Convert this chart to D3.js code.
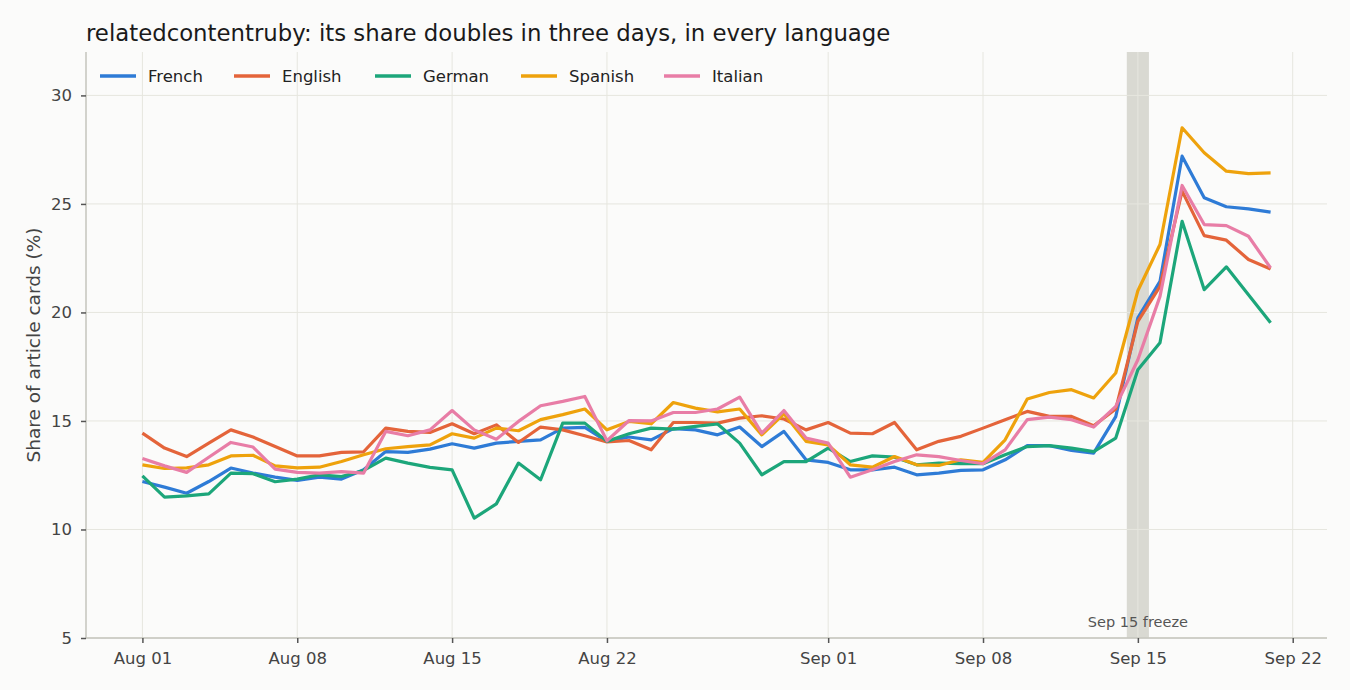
<!DOCTYPE html>
<html>
<head>
<meta charset="utf-8">
<script src="https://cdn.jsdelivr.net/npm/d3@7"></script>
<style>
  body { margin: 0; background: #fbfbfa; }
  text { font-family: "DejaVu Sans", sans-serif; }
</style>
</head>
<body>
<div id="chart"></div>
<script>
// languages and their colours
const languages = ["French", "English", "German", "Spanish", "Italian"];
const colors = ["#2e7bd6", "#e4643a", "#1ca67a", "#eea20c", "#e87da6"];

// share of article cards (%), one value per day from Aug 01 to Sep 21
const french = [12.21, 11.95, 11.67, 12.21, 12.83, 12.6, 12.41, 12.26, 12.41, 12.32, 12.75, 13.59, 13.55, 13.7, 13.95, 13.75, 13.98, 14.06, 14.13, 14.67, 14.7, 14.06, 14.26, 14.13, 14.65, 14.59, 14.36, 14.72, 13.82, 14.52, 13.21, 13.09, 12.75, 12.75, 12.87, 12.52, 12.6, 12.72, 12.75, 13.21, 13.86, 13.86, 13.64, 13.52, 15.2, 19.75, 21.43, 27.2, 25.28, 24.87, 24.77, 24.62];
const english = [14.44, 13.75, 13.36, 13.98, 14.59, 14.26, 13.82, 13.39, 13.39, 13.55, 13.58, 14.67, 14.52, 14.47, 14.87, 14.41, 14.82, 14.01, 14.72, 14.59, 14.32, 14.03, 14.1, 13.67, 14.93, 14.93, 14.9, 15.13, 15.24, 15.09, 14.59, 14.93, 14.44, 14.41, 14.93, 13.67, 14.06, 14.29, 14.67, 15.06, 15.44, 15.21, 15.21, 14.78, 15.55, 19.59, 21.2, 25.59, 23.54, 23.33, 22.44, 22.0];
const german = [12.47, 11.49, 11.55, 11.64, 12.6, 12.57, 12.2, 12.32, 12.52, 12.44, 12.72, 13.29, 13.06, 12.86, 12.75, 10.52, 11.18, 13.06, 12.29, 14.9, 14.9, 14.06, 14.41, 14.67, 14.62, 14.75, 14.86, 13.98, 12.52, 13.13, 13.13, 13.75, 13.13, 13.39, 13.33, 12.98, 13.06, 13.03, 13.03, 13.44, 13.82, 13.86, 13.75, 13.59, 14.21, 17.36, 18.6, 24.2, 21.05, 22.1, 20.82, 19.52];
const spanish = [12.98, 12.81, 12.84, 12.98, 13.39, 13.42, 12.93, 12.84, 12.87, 13.13, 13.44, 13.72, 13.82, 13.9, 14.41, 14.21, 14.67, 14.55, 15.06, 15.29, 15.55, 14.59, 14.98, 14.87, 15.85, 15.59, 15.42, 15.55, 14.36, 15.33, 14.06, 13.9, 12.98, 12.87, 13.36, 12.98, 12.95, 13.21, 13.09, 14.13, 16.01, 16.31, 16.44, 16.06, 17.21, 21.0, 23.13, 28.51, 27.36, 26.51, 26.4, 26.43];
const italian = [13.27, 12.93, 12.63, 13.33, 14.01, 13.8, 12.78, 12.63, 12.6, 12.67, 12.6, 14.52, 14.32, 14.59, 15.48, 14.59, 14.16, 14.98, 15.7, 15.9, 16.13, 14.09, 15.02, 15.0, 15.39, 15.39, 15.55, 16.1, 14.44, 15.48, 14.21, 13.98, 12.41, 12.75, 13.13, 13.44, 13.36, 13.18, 13.03, 13.67, 15.06, 15.18, 15.06, 14.72, 15.67, 17.82, 20.74, 25.85, 24.05, 24.0, 23.51, 22.05];
const seriesValues = [french, english, german, spanish, italian];

// x axis: days and tick labels
const days = d3.timeDay.range(new Date(2024, 7, 1), new Date(2024, 8, 22));
const xTicks = ["2024-08-01", "2024-08-08", "2024-08-15", "2024-08-22", "2024-09-01", "2024-09-08", "2024-09-15", "2024-09-22"];
const yTicks = [5, 10, 15, 20, 25, 30];
const freeze = { date: "2024-09-15", label: "Sep 15 freeze" };

const width = 1350, height = 690;
const margin = { top: 52, right: 23, bottom: 52, left: 86 };
const parse = d3.timeParse("%Y-%m-%d");
const pad = 2.55 * 864e5;

const x = d3.scaleTime()
  .domain([+days[0] - pad, +days[days.length - 1] + pad])
  .range([margin.left, width - margin.right]);
const y = d3.scaleLinear()
  .domain([5, 32])
  .range([height - margin.bottom, margin.top]);

const svg = d3.select("#chart").append("svg")
  .attr("width", width)
  .attr("height", height)
  .style("background", "#fbfbfa");

// freeze band, one day wide round Sep 15
const fz = parse(freeze.date);
svg.append("rect")
  .attr("x", x(+fz - 864e5 / 2))
  .attr("y", margin.top)
  .attr("width", x(+fz + 864e5 / 2) - x(+fz - 864e5 / 2))
  .attr("height", height - margin.bottom - margin.top)
  .attr("fill", "#d9d9d2");

// grid
svg.append("g").selectAll("line").data(xTicks.map(parse)).join("line")
  .attr("x1", d => x(d)).attr("x2", d => x(d))
  .attr("y1", margin.top).attr("y2", height - margin.bottom)
  .attr("stroke", "#e6e6df").attr("stroke-width", 1);
svg.append("g").selectAll("line").data(yTicks).join("line")
  .attr("x1", margin.left).attr("x2", width - margin.right)
  .attr("y1", d => y(d)).attr("y2", d => y(d))
  .attr("stroke", "#e6e6df").attr("stroke-width", 1);

// axes
const xAxis = svg.append("g")
  .attr("transform", `translate(0,${height - margin.bottom})`)
  .call(d3.axisBottom(x).tickValues(xTicks.map(parse)).tickFormat(d3.timeFormat("%b %d")).tickSize(5).tickPadding(9));
const yAxis = svg.append("g")
  .attr("transform", `translate(${margin.left},0)`)
  .call(d3.axisLeft(y).tickValues(yTicks).tickSize(5).tickPadding(9));
[xAxis, yAxis].forEach(g => {
  g.select(".domain").attr("stroke", "#c4c4bc").attr("stroke-width", 1.5);
  g.selectAll(".tick line").attr("stroke", "#555").attr("stroke-width", 1.5);
  g.selectAll(".tick text").attr("fill", "#444").style("font-size", "16.5px")
    .style("font-family", "DejaVu Sans, sans-serif");
});
xAxis.select(".domain").attr("d", `M${margin.left},0H${width - margin.right}`);
yAxis.select(".domain").attr("d", `M0,${height - margin.bottom}V${margin.top}`);

// lines
const line = d3.line()
  .x((d, i) => x(days[i]))
  .y(d => y(d));
seriesValues.forEach((vals, k) => {
  svg.append("path")
    .datum(vals)
    .attr("d", line)
    .attr("fill", "none")
    .attr("stroke", colors[k])
    .attr("stroke-width", 3.2)
    .attr("stroke-linejoin", "round");
});

// freeze label
svg.append("text")
  .attr("x", x(fz))
  .attr("y", 627)
  .attr("text-anchor", "middle")
  .attr("fill", "#555")
  .style("font-size", "14.5px")
  .text(freeze.label);

// legend
const legendX = [100, 234, 375, 521, 664];
languages.forEach((name, k) => {
  svg.append("line")
    .attr("x1", legendX[k]).attr("x2", legendX[k] + 36)
    .attr("y1", 76).attr("y2", 76)
    .attr("stroke", colors[k]).attr("stroke-width", 3.5);
  svg.append("text")
    .attr("x", legendX[k] + 48)
    .attr("y", 76)
    .attr("dy", "0.35em")
    .attr("fill", "#222")
    .style("font-size", "16.5px")
    .text(name);
});

// title and y label
svg.append("text")
  .attr("x", 86)
  .attr("y", 41)
  .attr("fill", "#1a1a1a")
  .style("font-size", "22.8px")
  .text("relatedcontentruby: its share doubles in three days, in every language");

svg.append("text")
  .attr("transform", `translate(40,${(margin.top + height - margin.bottom) / 2}) rotate(-90)`)
  .attr("text-anchor", "middle")
  .attr("fill", "#444")
  .style("font-size", "18.5px")
  .text("Share of article cards (%)");
</script>
</body>
</html>
